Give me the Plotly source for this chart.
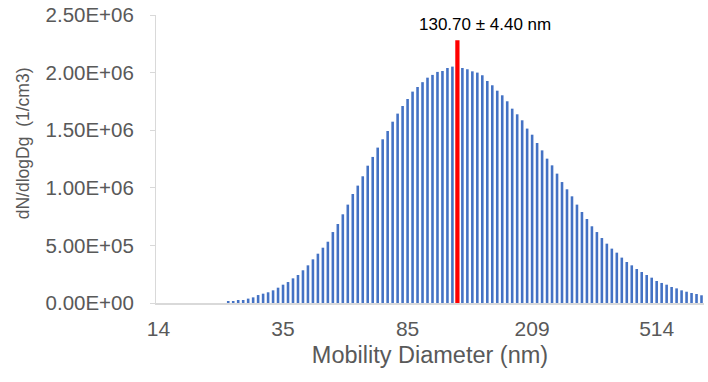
import plotly.graph_objects as go

# Mobility diameter bins (nm), 64 channels/decade
diameters = [
    14.1, 14.6, 15.1, 15.7, 16.3, 16.8, 17.5, 18.1, 18.8, 19.5,
    20.2, 20.9, 21.7, 22.5, 23.3, 24.1, 25.0, 25.9, 26.9, 27.9,
    28.9, 30.0, 31.1, 32.2, 33.4, 34.6, 35.9, 37.2, 38.5, 40.0,
    41.4, 42.9, 44.5, 46.1, 47.8, 49.6, 51.4, 53.3, 55.2, 57.3,
    59.4, 61.5, 63.8, 66.1, 68.5, 71.0, 73.7, 76.4, 79.1, 82.0,
    85.1, 88.2, 91.4, 94.7, 98.2, 101.8, 105.5, 109.4, 113.4, 117.6,
    121.9, 126.3, 131.0, 135.8, 140.7, 145.9, 151.2, 156.8, 162.5, 168.5,
    174.7, 181.1, 187.7, 194.6, 201.7, 209.1, 216.7, 224.7, 232.9, 241.4,
    250.3, 259.5, 269.0, 278.8, 289.0, 299.6, 310.6, 322.0, 333.8, 346.0,
    358.7, 371.8, 385.4, 399.5, 414.2, 429.4, 445.1, 461.4, 478.3, 495.8,
    514.0, 532.8, 552.3, 572.5, 593.5, 615.3, 637.8, 661.2, 685.4, 710.5,
]

# dN/dlogDg (1/cm3)
dndlogdg = [
    0, 0, 0, 0, 0, 0, 0, 0, 0, 0,
    0, 0, 0, 0, 14500, 14500, 26000, 26000, 38000, 49000,
    69000, 81000, 93000, 110000, 133000, 159000, 182000, 214000, 243000, 284000,
    327000, 379000, 428000, 480000, 532000, 616000, 686000, 770000, 854000, 946000,
    1019000, 1100000, 1192000, 1268000, 1349000, 1421000, 1493000, 1574000, 1644000, 1710000,
    1771000, 1835000, 1875000, 1917000, 1956000, 1980000, 2006000, 2014000, 2040000, 2052000,
    2050000, 2040000, 2029000, 2011000, 2000000, 1977000, 1927000, 1890000, 1843000, 1803000,
    1751000, 1687000, 1638000, 1586000, 1514000, 1461000, 1389000, 1325000, 1253000, 1195000,
    1123000, 1050000, 987000, 926000, 854000, 790000, 729000, 666000, 616000, 564000,
    515000, 472000, 437000, 394000, 356000, 327000, 295000, 269000, 243000, 220000,
    191000, 174000, 159000, 139000, 127000, 110000, 98000, 87000, 78000, 67000,
]

# Marker bar (mean diameter indicator)
marker_diameter = 121.9
marker_value = 2280000
marker_label = "130.70 ± 4.40 nm"

x_title = "Mobility Diameter (nm)"
y_title = "dN/dlogDg  (1/cm3)"

tick_every = 25
y_ticks = [0, 500000, 1000000, 1500000, 2000000, 2500000]

categories = [f"{d:.1f}" for d in diameters]
tick_vals = categories[::tick_every]
tick_text = [f"{round(d)}" for d in diameters[::tick_every]]


def excel_sci(v):
    s = f"{v:.2E}"
    mant, exp = s.split("E")
    sign = exp[0]
    num = int(exp[1:])
    return f"{mant}E{sign}{num:02d}"


fig = go.Figure()
fig.add_trace(go.Bar(
    x=categories, y=dndlogdg, width=0.52,
    marker=dict(color="#4472C4", line=dict(width=0)),
    showlegend=False,
))
fig.add_trace(go.Bar(
    x=[f"{marker_diameter:.1f}"], y=[marker_value], width=0.85,
    marker=dict(color="#FF0000", line=dict(width=0)),
    showlegend=False,
))

gray = "#595959"
fig.update_layout(
    width=708, height=382,
    margin=dict(l=156, r=3.5, t=15, b=79.3),
    paper_bgcolor="white", plot_bgcolor="white",
    barmode="overlay",
    font=dict(family="Liberation Sans, Arial, sans-serif", color=gray),
    xaxis=dict(
        type="category", automargin=False,
        categoryorder="array", categoryarray=categories,
        range=[-0.5, len(categories) - 0.5],
        tickmode="array", tickvals=tick_vals, ticktext=tick_text,
        tickfont=dict(size=21, color=gray),
        showline=True, linecolor="#D9D9D9", linewidth=1.5,
        ticks="", showgrid=False, zeroline=False,
        ticklabelstandoff=6,
        title=dict(text=x_title, font=dict(size=23.5, color=gray), standoff=8),
    ),
    yaxis=dict(
        range=[0, 2500000], automargin=False,
        tickmode="array", tickvals=y_ticks, ticktext=[excel_sci(v) for v in y_ticks],
        tickfont=dict(size=20.5, color=gray),
        showline=True, linecolor="#D9D9D9", linewidth=1,
        ticks="outside", ticklen=5, tickcolor="#D9D9D9",
        showgrid=False, zeroline=False,
        ticklabelstandoff=12,
    ),
    annotations=[
        dict(
            text=marker_label, xref="paper", yref="paper",
            x=0.600, y=0.968, xanchor="center", yanchor="middle",
            showarrow=False, font=dict(size=17, color="#000000"),
        ),
        dict(
            text=y_title, xref="paper", yref="paper",
            x=-0.2425, y=0.555, xanchor="center", yanchor="middle",
            textangle=-90, showarrow=False, font=dict(size=17.5, color=gray),
        ),
    ],
)

fig.write_html(
    "out.html",
    config={"displayModeBar": False},
    post_script="document.body.style.margin='0';",
)
